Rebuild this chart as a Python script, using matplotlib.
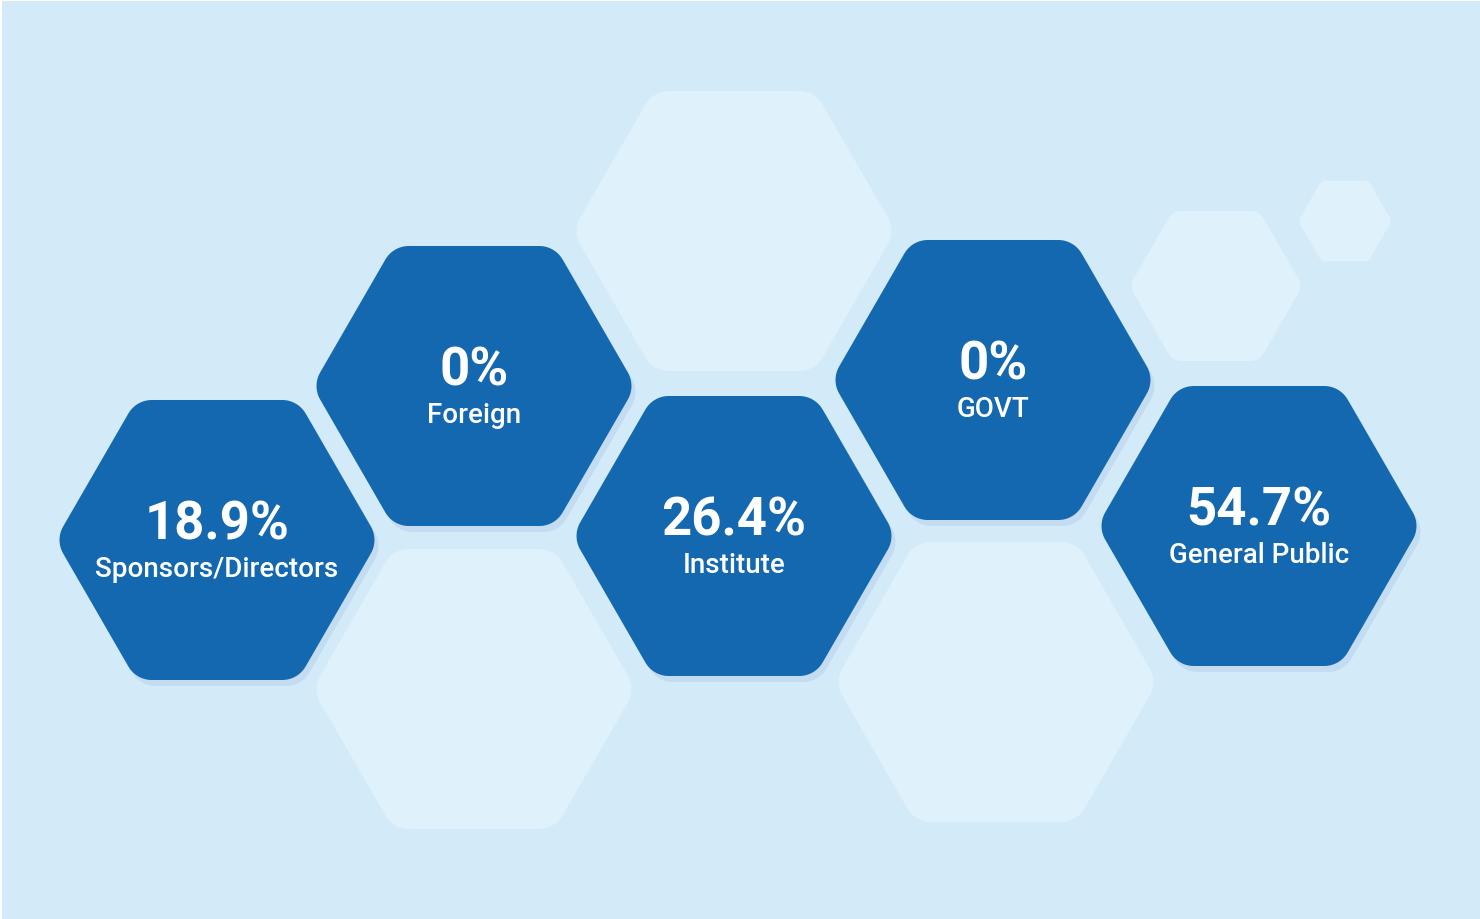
"""
Shareholding pattern shown as a honeycomb of hexagons
"""
import matplotlib.pyplot as plt
from matplotlib.patches import Polygon
import numpy as np

plt.rcParams['font.family'] = ['Roboto', 'DejaVu Sans']

# ===== data =====
categories = ['Sponsors/Directors', 'Foreign', 'Institute', 'GOVT', 'General Public']
shares = [18.9, 0, 26.4, 0, 54.7]

# ===== layout (pixel coords, y down) =====
main_centers = [(217, 541), (474, 387), (734, 537), (993, 381), (1259, 527)]
main_apothem = 140

# decorative light hexagons: (x, y, apothem)
deco_hexes = [(734, 232, 140), (474, 690, 140), (996, 683, 140),
              (1216, 287, 75), (1345, 222, 40.5)]

BG = '#D3EAF8'
LIGHT = '#DFF1FB'
DARK = '#1368B0'
SHADOW = '#C3DCF2'


def rounded_hex(cx, cy, apothem, corner):
    """flat-top hexagon with rounded corners, returns vertex array"""
    R = apothem / np.sin(np.pi / 3)
    inner = R - corner / np.sin(np.pi / 3)
    pts = []
    for k in range(6):
        th = np.deg2rad(60 * k)
        vx, vy = cx + inner * np.cos(th), cy + inner * np.sin(th)
        arc = np.linspace(th - np.pi / 6, th + np.pi / 6, 12)
        pts.extend(zip(vx + corner * np.cos(arc), vy + corner * np.sin(arc)))
    return np.array(pts)


fig = plt.figure(figsize=(14.8, 9.2), dpi=100)
fig.patch.set_facecolor('white')
ax = fig.add_axes([0, 0, 1, 1])
ax.set_xlim(0, 1480)
ax.set_ylim(920, 0)
ax.axis('off')

# background panel (thin white edge on top/left)
ax.add_patch(plt.Rectangle((1.5, 1.5), 1480, 920, facecolor=BG, edgecolor='none'))

for x, y, a in deco_hexes:
    ax.add_patch(Polygon(rounded_hex(x, y, a, 27 * a / 140),
                         closed=True, facecolor=LIGHT, edgecolor='none'))

for (x, y) in main_centers:
    ax.add_patch(Polygon(rounded_hex(x + 4, y + 6, main_apothem, 27),
                         closed=True, facecolor=SHADOW, edgecolor='none'))
    ax.add_patch(Polygon(rounded_hex(x, y, main_apothem, 27),
                         closed=True, facecolor=DARK, edgecolor='none'))

for (x, y), name, val in zip(main_centers, categories, shares):
    txt = f'{val:g}%' if val == 0 else f'{val:.1f}%'
    ax.text(x, y - 1, txt, ha='center', va='baseline', color='white',
            fontsize=38, fontweight='bold')
    ax.text(x, y + 36, name, ha='center', va='baseline', color='white',
            fontsize=20, fontweight='medium')

fig.savefig('out.png', dpi=100, facecolor='white')
plt.close(fig)
